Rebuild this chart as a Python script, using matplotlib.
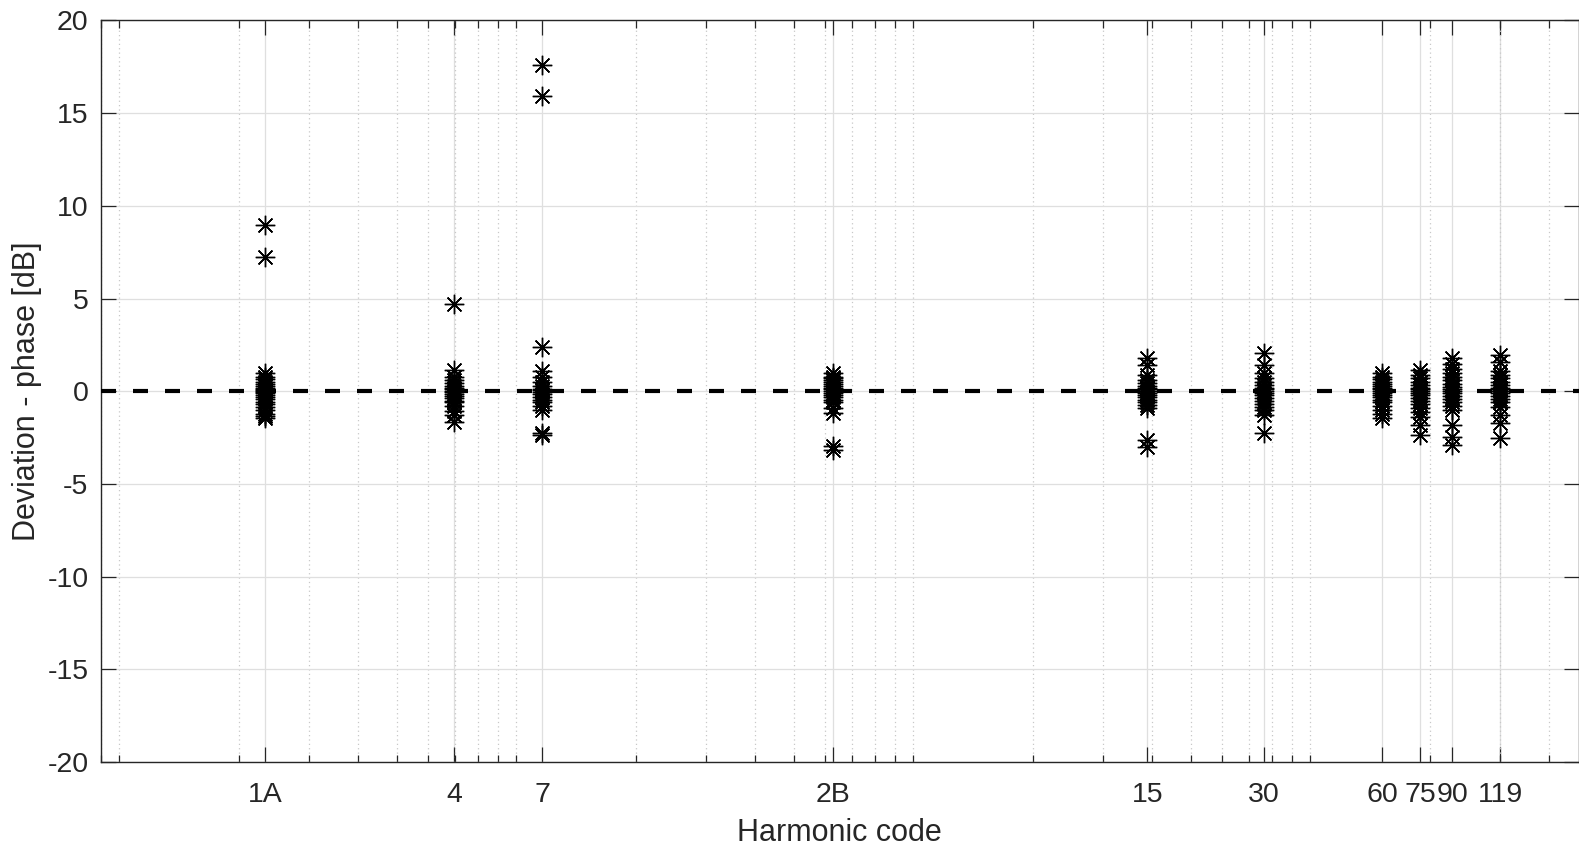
import matplotlib
matplotlib.use('Agg')
import matplotlib.pyplot as plt
from matplotlib.ticker import LogLocator, FixedLocator, FixedFormatter, NullFormatter
import numpy as np

plt.rcParams['font.family'] = ['Liberation Sans', 'DejaVu Sans']
plt.rcParams['axes.unicode_minus'] = False

# ---- data ----
code_labels = ['1A', '4', '7', '2B', '15', '30', '60', '75', '90', '119']
code_x = [2.335, 6.98, 11.63, 62.9, 388.9, 765, 1519, 1894, 2276, 3013]

dev_1A = [8.98, 7.27, 1.0, 0.8, 0.65, 0.5, 0.4, 0.3, 0.2, 0.1, 0.05, 0.0, -0.05, -0.1,
          -0.2, -0.3, -0.4, -0.55, -0.7, -0.85, -1.0, -1.2, -1.35, -1.46]
dev_4 = [4.70, 1.15, 0.8, 0.6, 0.45, 0.3, 0.2, 0.1, 0.0, -0.05, -0.15, -0.25, -0.35,
         -0.5, -0.6, -0.8, -1.05, -1.3, -1.64]
dev_7 = [17.62, 15.91, 2.41, 1.10, 0.75, 0.5, 0.3, 0.15, 0.05, -0.05, -0.15, -0.3,
         -0.45, -0.6, -0.8, -1.0, -2.27, -2.37]
dev_2B = [0.97, 0.8, 0.7, 0.6, 0.5, 0.4, 0.3, 0.2, 0.1, 0.0, -0.1, -0.2, -0.3, -0.45,
          -0.6, -0.92, -1.15, -2.95, -3.18]
dev_15 = [1.82, 1.44, 0.9, 0.6, 0.45, 0.3, 0.2, 0.1, 0.0, -0.1, -0.2, -0.3, -0.45,
          -0.6, -0.75, -0.9, -2.65, -2.99]
dev_30 = [2.05, 1.42, 1.0, 0.7, 0.5, 0.35, 0.2, 0.1, 0.0, -0.1, -0.2, -0.35, -0.5,
          -0.7, -0.85, -1.0, -1.28, -2.27]
dev_60 = [0.97, 0.8, 0.65, 0.5, 0.4, 0.3, 0.2, 0.1, 0.0, -0.1, -0.2, -0.3, -0.45,
          -0.6, -0.8, -1.0, -1.2, -1.46]
dev_75 = [1.15, 0.9, 0.7, 0.5, 0.35, 0.2, 0.1, 0.0, -0.1, -0.2, -0.35, -0.5, -0.7,
          -0.9, -1.1, -1.4, -1.82, -2.36]
dev_90 = [1.78, 1.5, 1.2, 1.0, 0.8, 0.6, 0.4, 0.25, 0.1, 0.0, -0.1, -0.25, -0.4,
          -0.6, -0.8, -1.0, -1.82, -2.45, -2.9]
dev_119 = [1.96, 1.6, 1.1, 0.9, 0.7, 0.5, 0.35, 0.2, 0.1, 0.0, -0.1, -0.25, -0.4,
           -0.6, -0.83, -1.28, -1.73, -2.54]
deviations = [dev_1A, dev_4, dev_7, dev_2B, dev_15, dev_30, dev_60, dev_75, dev_90, dev_119]

y_ticks = [-20, -15, -10, -5, 0, 5, 10, 15, 20]
x_limits = (0.9, 4739)
y_limits = (-20, 20)

# ---- figure ----
W, H = 1579, 846
fig = plt.figure(figsize=(W / 100, H / 100), dpi=100)
left, right, top, bottom = 101, 1578.5, 20.5, 762.2
ax = fig.add_axes([left / W, 1 - bottom / H, (right - left) / W, (bottom - top) / H])

dark = '#262626'
ax.set_xscale('log')
ax.set_xlim(*x_limits)
ax.set_ylim(*y_limits)

ax.axhline(0, color='black', lw=3.0, ls=(0, (3.6, 4.08)), zorder=3)

for x, ys in zip(code_x, deviations):
    ax.plot(np.full(len(ys), x), ys, linestyle='none', marker=(8, 2, 0),
            markersize=14, markeredgecolor='black', markeredgewidth=1.0, zorder=4)

ax.xaxis.set_major_locator(FixedLocator(code_x))
ax.xaxis.set_major_formatter(FixedFormatter(code_labels))
ax.xaxis.set_minor_locator(LogLocator(base=10, subs=np.arange(1, 10), numticks=100))
ax.xaxis.set_minor_formatter(NullFormatter())
ax.yaxis.set_major_locator(FixedLocator(y_ticks))
ax.yaxis.set_minor_locator(FixedLocator([]))

ax.grid(True, which='major', color='#dfdfdf', lw=0.9, ls='-', zorder=0)
ax.xaxis.grid(True, which='minor', color='#c8c8c8', lw=0.9, ls=(0, (1, 2.5)), zorder=0)
ax.set_axisbelow(True)

ax.tick_params(which='both', direction='in', top=True, right=True, colors=dark,
               width=0.9)
ax.tick_params(which='major', length=10.8, labelsize=20.5)
ax.tick_params(which='minor', length=5.4)
ax.tick_params(axis='x', which='major', pad=14.3)
ax.tick_params(axis='y', which='major', pad=9)

for s in ax.spines.values():
    s.set_color(dark)
    s.set_linewidth(1.0)

ax.set_xlabel('Harmonic code', fontsize=22, color=dark, labelpad=7.5)
ax.set_ylabel('Deviation - phase [dB]', fontsize=22, color=dark, labelpad=4)

fig.savefig('out.png', dpi=100)
